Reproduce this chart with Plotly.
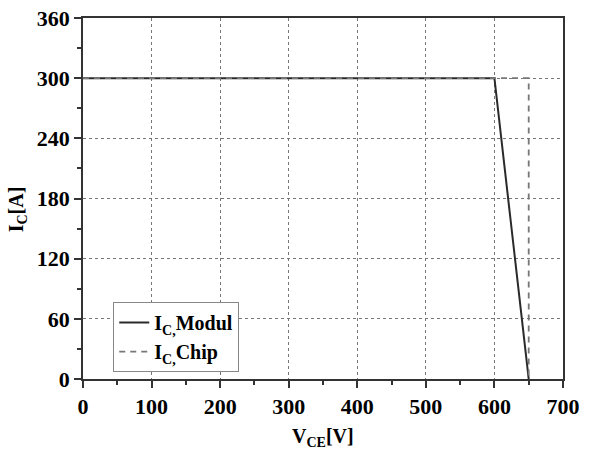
import plotly.graph_objects as go

modul_v = [0, 600, 650]
modul_i = [300, 300, 0]
chip_v = [0, 650, 650]
chip_i = [300, 300, 0]

x_ticks = [0, 100, 200, 300, 400, 500, 600, 700]
y_ticks = [0, 60, 120, 180, 240, 300, 360]

font = "Liberation Serif, Times New Roman, serif"

fig = go.Figure()
fig.add_trace(go.Scatter(x=modul_v, y=modul_i, mode="lines",
                         line=dict(color="#2a2a2a", width=2),
                         name="<b>I<sub>C,</sub>Modul</b>"))
fig.add_trace(go.Scatter(x=chip_v, y=chip_i, mode="lines",
                         line=dict(color="#777777", width=1.8, dash="6px,5px"),
                         name="<b>I<sub>C,</sub>Chip</b>"))

axis_common = dict(
    showline=True, linecolor="#333333", linewidth=1.5, mirror=True,
    ticks="outside", ticklen=7, tickwidth=1.5, tickcolor="#333333",
    showgrid=True, gridcolor="#777777", griddash="dot", gridwidth=1,
    zeroline=False, automargin=False,
    tickfont=dict(family=font, size=22, color="#000000"),
)

fig.update_xaxes(range=[0, 700], tickvals=x_ticks, ticktext=[f"<b>{v}</b>" for v in x_ticks],
                 minor=dict(dtick=50, ticks="outside", ticklen=4, tickcolor="#333333", showgrid=False),
                 **axis_common)
fig.update_yaxes(range=[0, 360], tickvals=y_ticks, ticktext=[f"<b>{v}</b>" for v in y_ticks],
                 minor=dict(dtick=30, ticks="outside", ticklen=4, tickcolor="#333333", showgrid=False),
                 **axis_common)

fig.update_layout(
    width=598, height=453,
    margin=dict(l=83, r=35, t=18, b=74),
    plot_bgcolor="white", paper_bgcolor="white",
    legend=dict(x=0.063, y=0.213, xanchor="left", yanchor="top",
                bordercolor="#888888", borderwidth=1, bgcolor="white",
                font=dict(family=font, size=20, color="#000000"),
                tracegroupgap=0, itemwidth=30),
    showlegend=True,
    annotations=[
        dict(text="<b>V<sub>CE</sub>[V]</b>", xref="paper", yref="paper", x=0.5, y=0,
             xanchor="center", yanchor="middle", yshift=-58, showarrow=False,
             font=dict(family=font, size=20, color="#000000")),
        dict(text="<b>I<sub>C</sub>[A]</b>", xref="paper", yref="paper", x=0, y=0.47,
             xanchor="center", yanchor="middle", xshift=-66, textangle=-90, showarrow=False,
             font=dict(family=font, size=20, color="#000000")),
    ],
)

fig.write_html("out.html", config={"displayModeBar": False},
               post_script="document.body.style.margin='0';document.body.style.padding='0';")
